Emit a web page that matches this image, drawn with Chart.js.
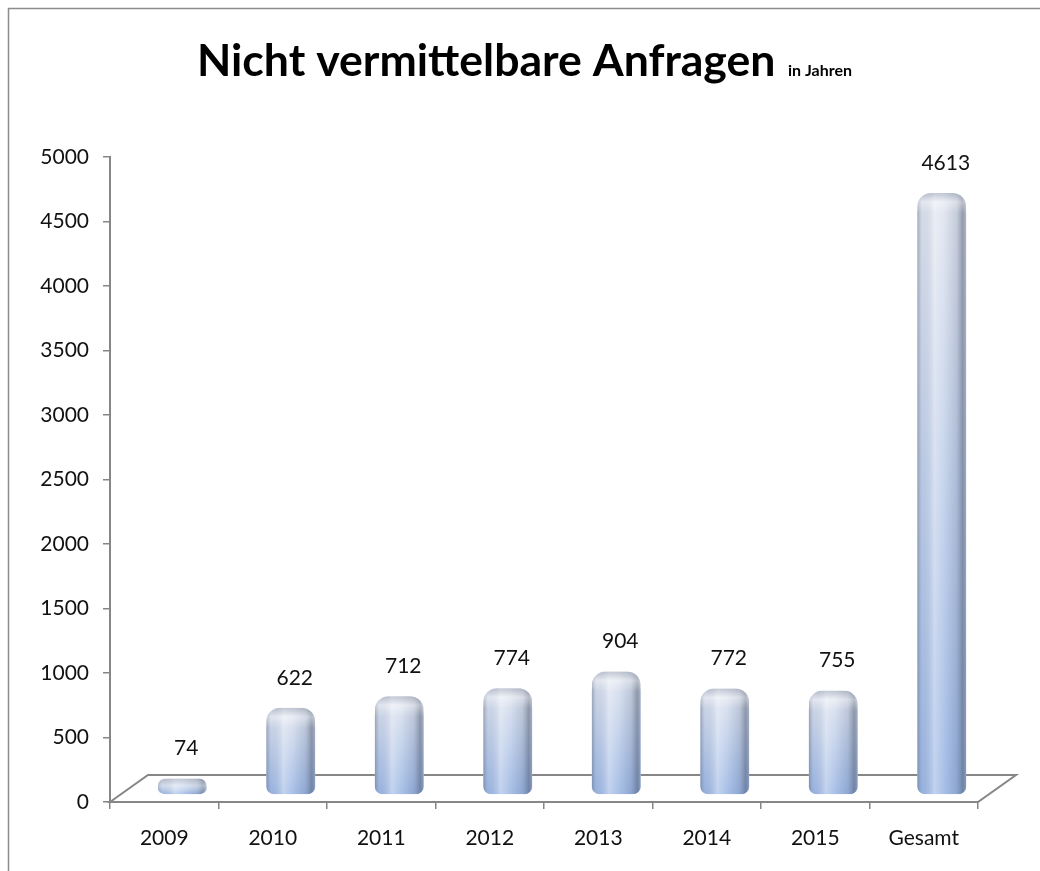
<!DOCTYPE html>
<html><head><meta charset="utf-8">
<script src="https://cdn.jsdelivr.net/npm/chart.js@4.4.1/dist/chart.umd.min.js"></script>
<style>html,body{margin:0;padding:0;background:#fff}</style>
</head><body>
<canvas id="c" width="1040" height="871"></canvas>
<script>
const categories = ['2009','2010','2011','2012','2013','2014','2015','Gesamt'];
const values = [74, 622, 712, 774, 904, 772, 755, 4613];
const yMin = 0, yMax = 5000, yStep = 500;
const titleMain = 'Nicht vermittelbare Anfragen';
const titleSub = 'in Jahren';

const FONT = 'Lato, "Open Sans", sans-serif';
const AXIS = '#868686';
const DX = 18, DY = -8;          // 3D depth shift of the bars
const FLOOR_DX = 38, FLOOR_DY = -27;

const framePlugin = {
  id: 'frame',
  beforeDraw(chart) {
    const ctx = chart.ctx;
    ctx.save();
    ctx.fillStyle = '#fff';
    ctx.fillRect(0, 0, chart.width, chart.height);
    ctx.strokeStyle = '#8c8c8c';
    ctx.lineWidth = 1.5;
    ctx.beginPath();
    ctx.moveTo(8.5, chart.height);
    ctx.lineTo(8.5, 8.5);
    ctx.lineTo(chart.width, 8.5);
    ctx.stroke();
    ctx.fillStyle = '#000';
    ctx.textBaseline = 'alphabetic';
    ctx.textAlign = 'left';
    let size = 42;
    ctx.font = 'bold ' + size + 'px ' + FONT;
    let w = ctx.measureText(titleMain).width;
    size = size * 578 / w;
    ctx.font = 'bold ' + size.toFixed(1) + 'px ' + FONT;
    ctx.fillText(titleMain, 197, 76);
    ctx.font = 'bold 16px ' + FONT;
    ctx.fillText(titleSub, 788, 76);
    ctx.restore();
  }
};

const barPlugin = {
  id: 'bars3d',
  beforeDatasetsDraw(chart) {
    const ctx = chart.ctx;
    const x = chart.scales.x, y = chart.scales.y;
    const y0 = y.getPixelForValue(0);
    ctx.save();
    ctx.strokeStyle = AXIS;
    ctx.lineWidth = 2;
    ctx.fillStyle = '#fff';
    ctx.beginPath();
    ctx.moveTo(x.left, y0);
    ctx.lineTo(x.left + FLOOR_DX, y0 + FLOOR_DY);
    ctx.lineTo(x.right + FLOOR_DX, y0 + FLOOR_DY);
    ctx.lineTo(x.right, y0);
    ctx.closePath();
    ctx.fill();
    ctx.stroke();
    ctx.restore();
    ctx.save();
    ctx.translate(DX, DY);
  },
  afterDatasetsDraw(chart) {
    const ctx = chart.ctx;
    const meta = chart.getDatasetMeta(0);
    meta.data.forEach((el, i) => {
      const p = el.getProps(['x', 'y', 'base', 'width'], true);
      const left = p.x - p.width / 2, w = p.width;
      const top = p.y - 6, bottom = p.base + 1, h = bottom - top;
      const r = Math.min(14, h / 2, w / 2);
      const rb = Math.min(8, h / 2);
      ctx.save();
      ctx.beginPath();
      ctx.roundRect(left, top, w, h, [r, r, rb, rb]);
      ctx.clip();
      const gv = ctx.createLinearGradient(0, top, 0, bottom);
      gv.addColorStop(0, '#dee3ee');
      gv.addColorStop(1, '#98b4e3');
      ctx.fillStyle = gv;
      ctx.fillRect(left, top, w, h);
      const gh = ctx.createLinearGradient(left, 0, left + w, 0);
      gh.addColorStop(0, 'rgba(70,80,100,0.40)');
      gh.addColorStop(0.10, 'rgba(150,160,180,0.10)');
      gh.addColorStop(0.35, 'rgba(255,255,255,0.40)');
      gh.addColorStop(0.55, 'rgba(255,255,255,0.15)');
      gh.addColorStop(0.80, 'rgba(80,90,110,0.15)');
      gh.addColorStop(0.93, 'rgba(60,70,90,0.45)');
      gh.addColorStop(1, 'rgba(90,100,120,0.35)');
      ctx.fillStyle = gh;
      ctx.fillRect(left, top, w, h);
      const capH = Math.min(20, h);
      const gc = ctx.createLinearGradient(0, top, 0, top + capH);
      gc.addColorStop(0, 'rgba(120,130,150,0.35)');
      gc.addColorStop(0.45, 'rgba(255,255,255,0.35)');
      gc.addColorStop(1, 'rgba(255,255,255,0)');
      ctx.fillStyle = gc;
      ctx.fillRect(left, top, w, capH);
      ctx.restore();
      ctx.save();
      ctx.fillStyle = '#111';
      ctx.font = '21px ' + FONT;
      ctx.textAlign = 'center';
      ctx.textBaseline = 'middle';
      ctx.fillText(String(values[i]), p.x + 4, p.y - 36);
      ctx.restore();
    });
    ctx.restore();
  }
};

new Chart(document.getElementById('c'), {
  type: 'bar',
  data: {
    labels: categories,
    datasets: [{
      data: values,
      backgroundColor: '#b9c8e4',
      borderWidth: 0,
      borderSkipped: false,
      borderRadius: { topLeft: 14, topRight: 14, bottomLeft: 6, bottomRight: 6 },
      categoryPercentage: 1,
      barPercentage: 0.45,
      clip: false
    }]
  },
  options: {
    responsive: false,
    animation: false,
    devicePixelRatio: 1,
    layout: { padding: { top: 157, right: 62, bottom: 0, left: 0 } },
    plugins: { legend: { display: false }, title: { display: false }, tooltip: { enabled: false } },
    scales: {
      x: {
        grid: { offset: true, drawOnChartArea: false, drawTicks: true, tickLength: 7, color: AXIS, lineWidth: 1.5 },
        border: { display: true, color: AXIS, width: 2 },
        ticks: { color: '#111', font: { family: FONT, size: 21 }, padding: 17 },
        afterFit(s) { s.height = 69; }
      },
      y: {
        min: yMin, max: yMax,
        grid: { drawOnChartArea: false, drawTicks: true, tickLength: 7, color: AXIS, lineWidth: 1.5 },
        border: { display: true, color: AXIS, width: 2 },
        ticks: { stepSize: yStep, color: '#111', font: { family: FONT, size: 21 }, padding: 14,
                 callback: v => String(v) },
        afterFit(s) { s.width = 110; }
      }
    }
  },
  plugins: [framePlugin, barPlugin]
});
</script>
</body></html>
